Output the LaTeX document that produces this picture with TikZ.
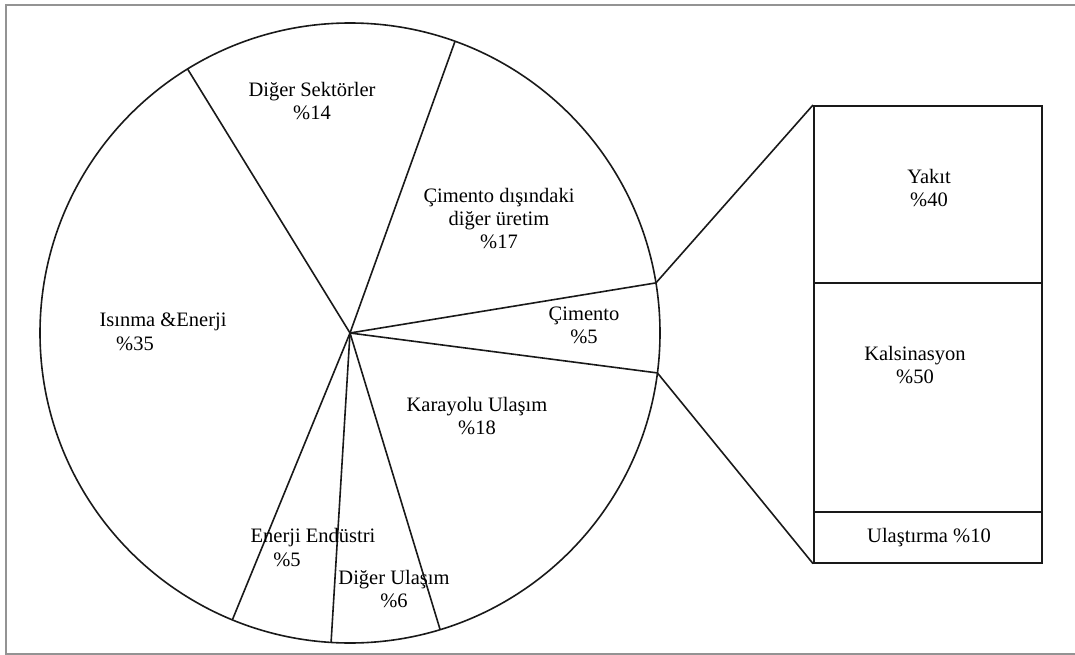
\documentclass[tikz,border=0pt]{standalone}
\usepackage{fontspec}
\setmainfont{Liberation Serif}
\usetikzlibrary{calc}
\begin{document}
\begin{tikzpicture}[x=1pt,y=-1pt,
  pie/.style={line width=1.6pt,black!90},
  frame/.style={line width=1.4pt,gray!85},
  lbl/.style={font=\fontsize{20.5}{23}\selectfont,align=center,inner sep=0pt},
  sect/.style={draw=black!90,line width=1.6pt,minimum width=228pt,inner sep=0pt,anchor=north west}]
\useasboundingbox (0,0) rectangle (1075,655);
% outer frame
\coordinate (f1) at (1075,5);
\coordinate (f2) at (6,5);
\coordinate (f3) at (6,654);
\coordinate (f4) at (1075,654);
\draw[frame] (f1) -- (f2) -- (f3) -- (f4);
% pie
\coordinate (C) at (350,333);
\draw[pie] (C) circle[radius=310pt];
\coordinate (p1) at ($(C)+(121.6:310pt)$);
\coordinate (p2) at ($(C)+(70.2:310pt)$);
\coordinate (p3) at ($(C)+(9.3:310pt)$);
\coordinate (p4) at ($(C)+(-7.4:310pt)$);
\coordinate (p5) at ($(C)+(-73.1:310pt)$);
\coordinate (p6) at ($(C)+(-93.5:310pt)$);
\coordinate (p7) at ($(C)+(-112.3:310pt)$);
\foreach \p in {p1,p2,p3,p4,p5,p6,p7} \draw[pie] (C) -- (\p);
% labels in pie
\node[lbl] (diger) at (312,101) {Diğer Sektörler\\\%14};
\node[lbl] (cimdis) at (499,219) {Çimento dışındaki\\diğer üretim\\\%17};
\node[lbl] (cim) at (584,325) {Çimento\\\%5};
\node[lbl] (isin) at (163,322) {Isınma \&Enerji};
\node[lbl] (isinp) at (135,344) {\%35};
\node[lbl] (kara) at (477,416) {Karayolu Ulaşım\\\%18};
\node[lbl] (ener) at (313,538) {Enerji Endüstri};
\node[lbl] (enerp) at (287,560) {\%5};
\node[lbl] (dulas) at (394,589) {Diğer Ulaşım\\\%6};
% breakdown box
\node[sect,minimum height=177pt] (yakitbox) at (813,105) {};
\node[sect,minimum height=229pt] (kalsbox) at (813,282) {};
\node[sect,minimum height=51pt] (ulasbox) at (813,511) {};
\node[lbl] (yakit) at (929,188) {Yakıt\\\%40};
\node[lbl] (kals) at (915,365) {Kalsinasyon\\\%50};
\node[lbl] (ulas) at (929,538) {Ulaştırma \%10};
% connectors
\draw[pie] (p3) -- (yakitbox.north west);
\draw[pie] (p4) -- (ulasbox.south west);
\end{tikzpicture}
\end{document}
